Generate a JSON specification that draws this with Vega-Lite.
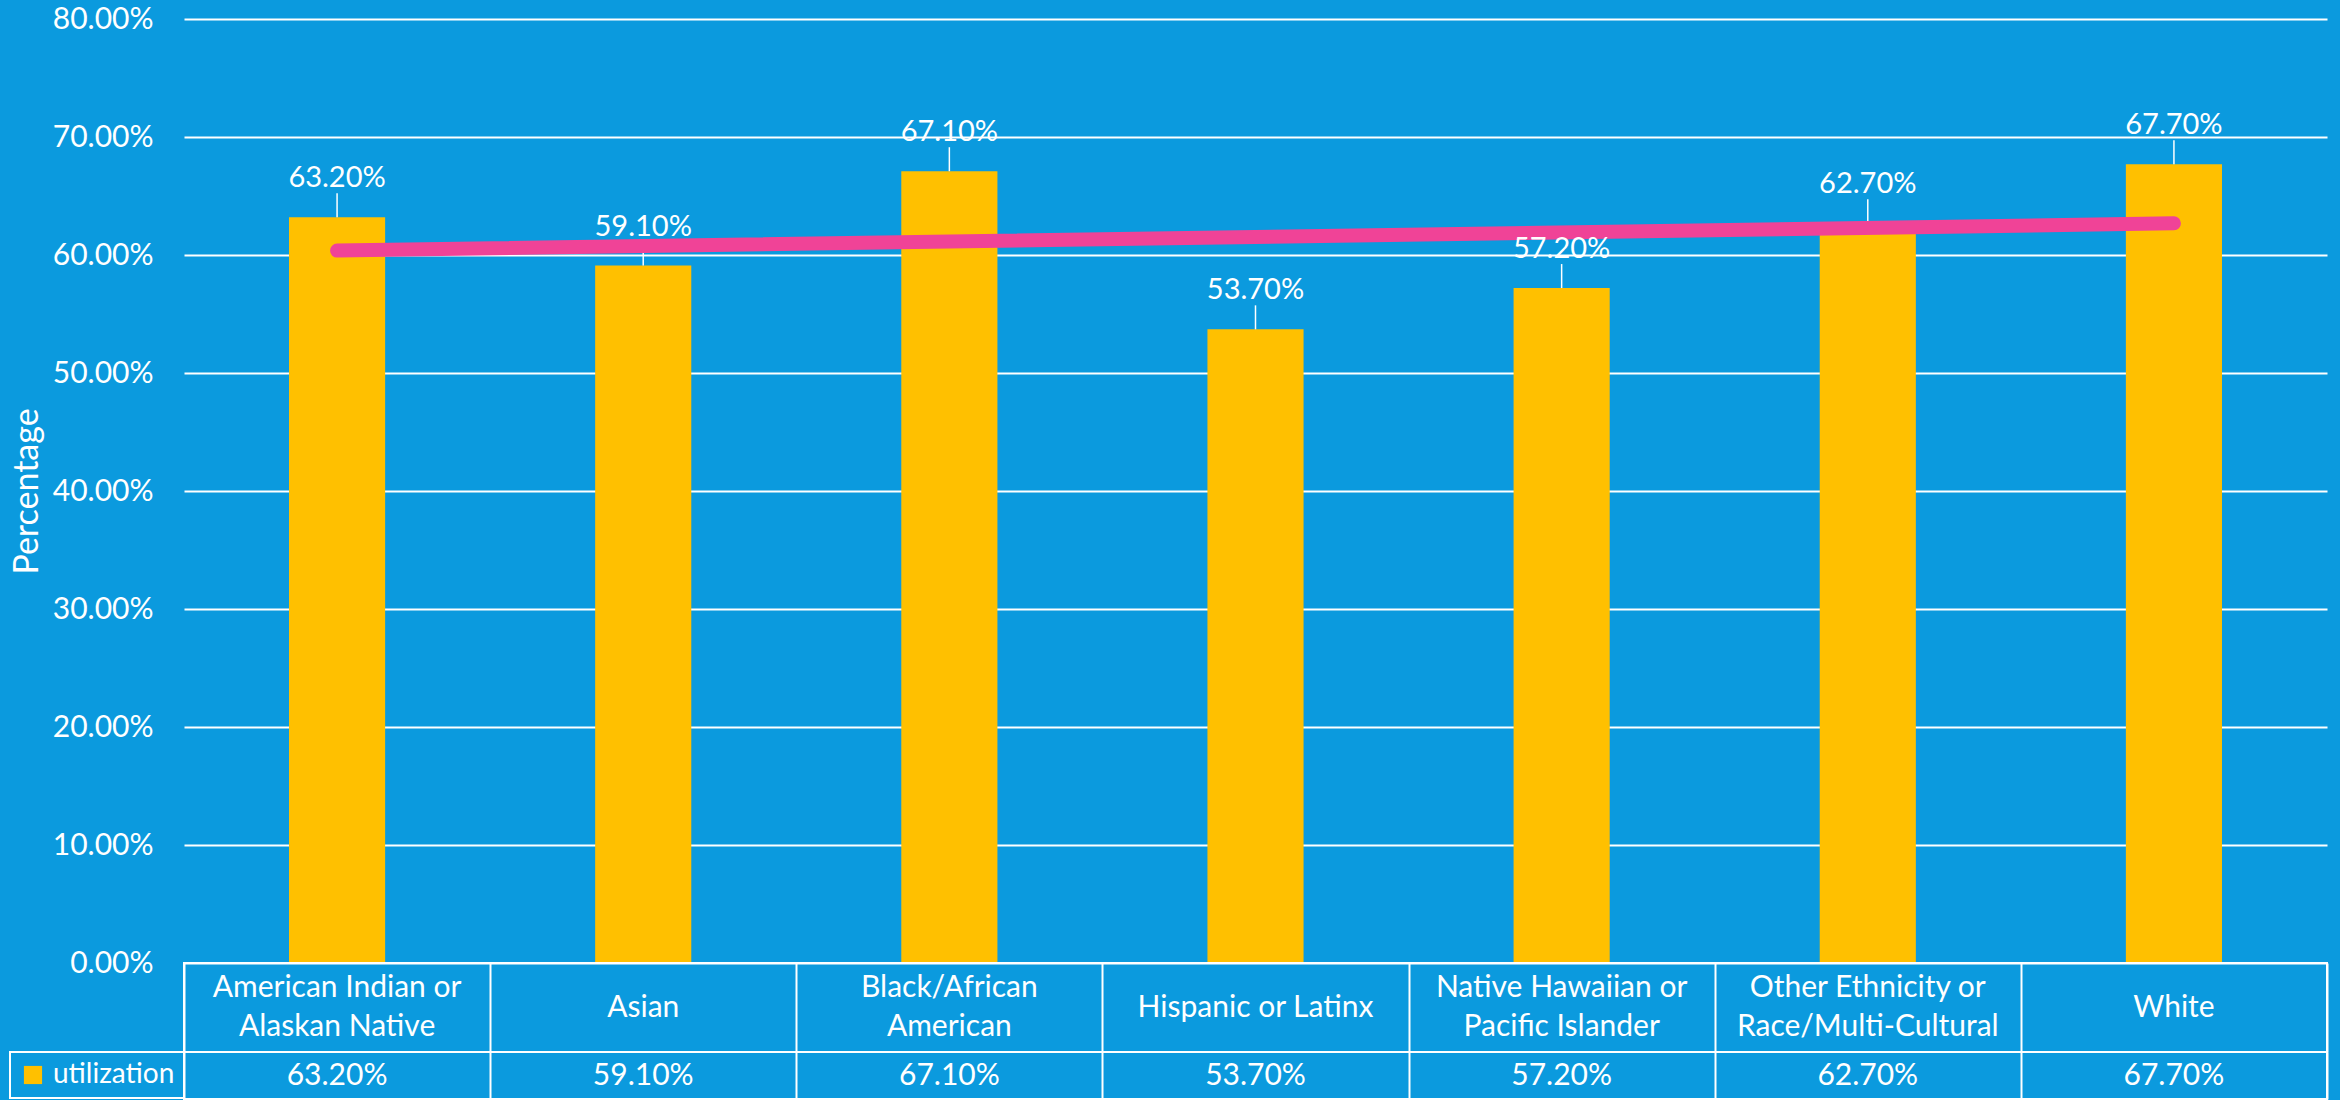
{
  "$schema": "https://vega.github.io/schema/vega-lite/v6.json",
  "background": "#0B9ADE",
  "padding": {"left": 8, "top": 4, "right": 12, "bottom": 1},
  "bounds": "flush",
  "spacing": 0,
  "config": {"font": "Lato", "view": {"stroke": null}},
  "datasets": {
    "d": [
      {"group": "American Indian or\nAlaskan Native", "value": 0.632},
      {"group": "Asian", "value": 0.591},
      {"group": "Black/African\nAmerican", "value": 0.671},
      {"group": "Hispanic or Latinx", "value": 0.537},
      {"group": "Native Hawaiian or\nPacific Islander", "value": 0.572},
      {"group": "Other Ethnicity or\nRace/Multi-Cultural", "value": 0.627},
      {"group": "White", "value": 0.677}
    ]
  },
  "data": {"name": "d"},
  "vconcat": [
    {
      "width": 2143,
      "height": 944,
      "view": {"stroke": null},
      "layer": [
        {
          "mark": {"type": "bar", "color": "#FFC000"},
          "encoding": {
            "x": {"field": "group", "type": "nominal", "sort": null, "axis": null,
                  "scale": {"type": "band", "paddingInner": 0.686, "paddingOuter": 0.343}},
            "y": {"field": "value", "type": "quantitative",
                  "scale": {"domain": [0, 0.8], "nice": false},
                  "axis": {
                    "values": [0, 0.1, 0.2, 0.3, 0.4, 0.5, 0.6, 0.7, 0.8],
                    "format": ".2%",
                    "labelFontSize": 30, "labelColor": "white", "labelPadding": 31,
                    "grid": true, "gridColor": "white", "gridWidth": 2, "gridOpacity": 1,
                    "domain": false, "ticks": false,
                    "title": "Percentage", "titleColor": "white", "titleFontSize": 34,
                    "titleFontWeight": "normal", "titleX": -157, "titleY": 472,
                    "titleAngle": -90, "titleBaseline": "middle", "titleAlign": "center"
                  }}
          }
        },
        {
          "mark": {"type": "rule", "color": "white", "strokeWidth": 1.5, "y2Offset": -24},
          "encoding": {
            "x": {"field": "group", "type": "nominal", "sort": null, "axis": null,
                  "scale": {"type": "band", "paddingInner": 0.686, "paddingOuter": 0.343}},
            "y": {"field": "value", "type": "quantitative"},
            "y2": {"field": "value"}
          }
        },
        {
          "transform": [
            {"window": [{"op": "row_number", "as": "idx"}]},
            {"regression": "value", "on": "idx"}
          ],
          "mark": {"type": "line", "color": "#F04397", "strokeWidth": 14, "strokeCap": "round"},
          "encoding": {
            "x": {"field": "idx", "type": "quantitative", "axis": null,
                  "scale": {"domain": [0.5, 7.5], "nice": false, "zero": false}},
            "y": {"field": "value", "type": "quantitative"}
          }
        },
        {
          "mark": {"type": "text", "color": "white", "fontSize": 29, "dy": -30, "baseline": "alphabetic"},
          "encoding": {
            "x": {"field": "group", "type": "nominal", "sort": null, "axis": null,
                  "scale": {"type": "band", "paddingInner": 0.686, "paddingOuter": 0.343}},
            "y": {"field": "value", "type": "quantitative"},
            "text": {"field": "value", "format": ".2%"}
          }
        }
      ],
      "resolve": {"scale": {"x": "independent"}}
    },
    {
      "width": 2143,
      "height": 89,
      "view": {"stroke": "white", "strokeWidth": 2},
      "layer": [
        {
          "mark": {"type": "text", "color": "white", "fontSize": 30, "baseline": "middle"},
          "encoding": {
            "x": {"field": "group", "type": "nominal", "sort": null,
                  "scale": {"type": "band", "paddingInner": 0, "paddingOuter": 0},
                  "axis": {"grid": true, "gridColor": "white", "gridWidth": 2, "gridOpacity": 1,
                           "tickBand": "extent", "labels": false, "ticks": false, "domain": false, "title": null}},
            "text": {"condition": {"test": "indexof(datum.group, '\\n') < 0", "field": "group"}, "value": ""}
          }
        },
        {
          "mark": {"type": "text", "color": "white", "fontSize": 30, "lineBreak": "\n", "lineHeight": 39, "baseline": "middle", "dy": -19.5},
          "encoding": {
            "x": {"field": "group", "type": "nominal", "sort": null},
            "text": {"condition": {"test": "indexof(datum.group, '\\n') >= 0", "field": "group"}, "value": ""}
          }
        }
      ]
    },
    {
      "width": 2143,
      "height": 47,
      "view": {"stroke": "white", "strokeWidth": 2},
      "layer": [
        {
          "mark": {"type": "text", "color": "white", "fontSize": 30, "baseline": "middle"},
          "encoding": {
            "x": {"field": "group", "type": "nominal", "sort": null,
                  "scale": {"type": "band", "paddingInner": 0, "paddingOuter": 0},
                  "axis": {"grid": true, "gridColor": "white", "gridWidth": 2, "gridOpacity": 1,
                           "tickBand": "extent", "labels": false, "ticks": false, "domain": false, "title": null}},
            "text": {"field": "value", "format": ".2%"}
          }
        },
        {
          "mark": {"type": "square", "opacity": 0},
          "encoding": {
            "x": {"field": "group", "type": "nominal", "sort": null},
            "color": {
              "datum": "utilization",
              "scale": {"range": ["#FFC000"]},
              "legend": {
                "orient": "left", "offset": 0, "title": null,
                "strokeColor": "white", "padding": 9,
                "labelFontSize": 28, "labelColor": "white", "labelOffset": 6,
                "symbolType": "square", "symbolSize": 330, "symbolStrokeWidth": 0,
                "symbolFillColor": "#FFC000", "symbolOpacity": 1,
                "encode": {"legend": {"update": {"strokeWidth": {"value": 2}}}}
              }
            }
          }
        }
      ]
    }
  ],
  "resolve": {"scale": {"x": "independent", "color": "independent"}, "legend": {"color": "independent"}}
}
